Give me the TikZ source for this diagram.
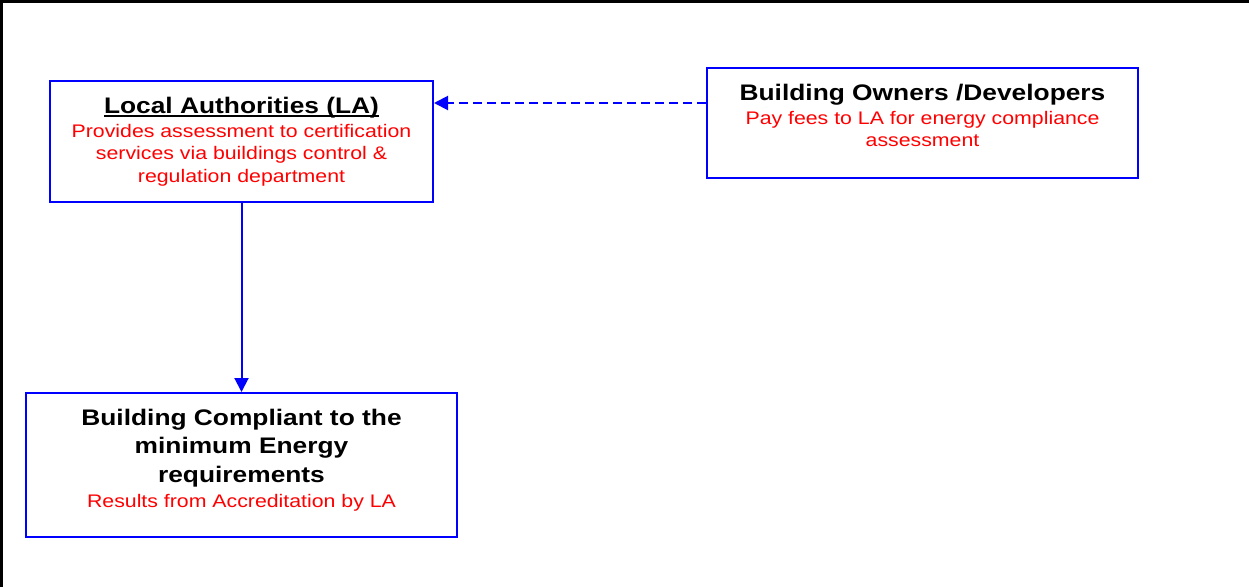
\documentclass[tikz,border=0pt]{standalone}
\usepackage{fontspec}
\setmainfont[FakeStretch=1.17]{Liberation Sans}
\usetikzlibrary{arrows.meta}
\definecolor{boxblue}{RGB}{0,0,255}
\definecolor{notered}{RGB}{255,0,0}
\newcommand{\titlefont}{\fontsize{22.5}{22.5}\selectfont\bfseries\color{black}}
\newcommand{\notefont}{\fontsize{18.2}{22.5}\selectfont\mdseries\color{notered}}
\newcommand{\ulbox}[1]{\setbox0\hbox{#1}\rlap{\rule[-4pt]{\wd0}{2pt}}\box0}

\begin{document}
\begin{tikzpicture}[x=1pt,y=-1pt,
    box/.style={draw=boxblue,line width=2pt,align=center,inner sep=0pt,
      font=\fontsize{18.2}{22.5}\selectfont},
    flow/.style={draw=boxblue,line width=2pt,-{Triangle[length=14pt,width=14pt]}}]
				% Cadre
				\useasboundingbox (0,0) rectangle (1249,587);
				\draw [line width=2.5pt] (1.25,587) -- (1.25,1.25) -- (1249,1.25);
				% Boîtes
				\node [box,minimum width=383pt,minimum height=121pt] (la) at (241.5,141.5)
				  {\titlefont\ulbox{Local Authorities (LA)}\\[1.5pt]
				   \notefont Provides assessment to certification\\
				   \notefont services via buildings control \&\\
				   \notefont regulation department};
				\node [box,minimum width=431pt,minimum height=110pt,text depth=15pt] (owners) at (922.5,123)
				  {\titlefont Building Owners /Developers\\[1.5pt]
				   \notefont Pay fees to LA for energy compliance\\
				   \notefont assessment};
				\node [box,minimum width=431pt,minimum height=144pt,text depth=14pt] (compliant) at (241.5,465)
				  {\titlefont Building Compliant to the\\[6pt]
				   \titlefont minimum Energy\\[6pt]
				   \titlefont requirements\\[2.5pt]
				   \notefont Results from Accreditation by LA};
				% Flèches
				\draw [flow,dash pattern=on 9pt off 5pt] ([yshift=20pt]owners.west) -- ([yshift=20pt]owners.west -| la.east);
				\draw [flow] (la.south) -- (compliant.north);
\end{tikzpicture}
\end{document}
